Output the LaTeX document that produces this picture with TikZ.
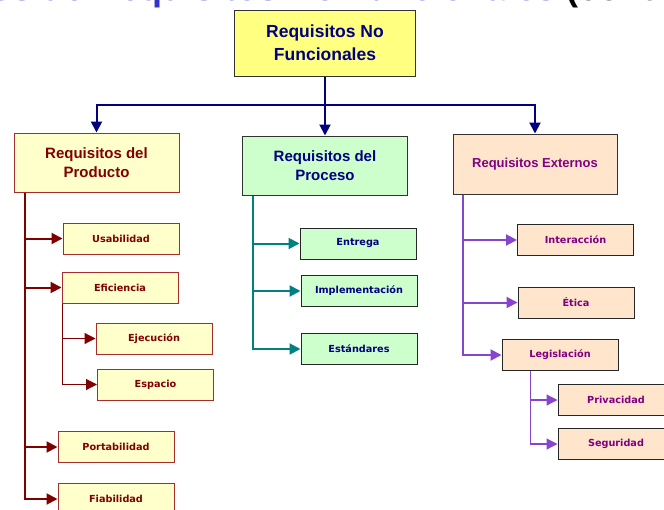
\documentclass[tikz,border=0pt]{standalone}
\usepackage{fontspec}
\setmainfont{Liberation Sans}
\newfontfamily\leaffont{DejaVu Sans}
\usetikzlibrary{arrows.meta,positioning}
\definecolor{navyline}{RGB}{0,0,128}
\definecolor{titleblue}{RGB}{51,51,204}
\definecolor{topfill}{RGB}{255,255,128}
\definecolor{prodred}{RGB}{128,0,0}
\definecolor{prodedge}{RGB}{165,45,45}
\definecolor{prodfill}{RGB}{255,255,204}
\definecolor{procfill}{RGB}{204,255,204}
\definecolor{procteal}{RGB}{0,128,128}
\definecolor{extfill}{RGB}{255,229,204}
\definecolor{extpurple}{RGB}{128,0,128}
\definecolor{extviolet}{RGB}{136,68,204}
\tikzset{
    head/.style={draw=black!80,line width=1pt,minimum width=165pt,minimum height=59pt,align=center,text=navyline,font=\bfseries\fontsize{15}{19}\selectfont},
    leaf/.style={draw,line width=1pt,minimum width=116pt,minimum height=31pt,font=\leaffont\bfseries\fontsize{9.7}{11}\selectfont},
    prodleaf/.style={leaf,fill=prodfill,draw=prodedge,text=prodred},
    procleaf/.style={leaf,fill=procfill,draw=black!85,text=navyline},
    extleaf/.style={leaf,fill=extfill,draw=black!85,text=extpurple},
    tip/.style={-{Triangle[length=11pt,width=11pt]}},
    bus/.style={tip,line width=2pt,draw=navyline},
    prodline/.style={tip,line width=2pt,draw=prodred},
    prodsub/.style={tip,line width=1.2pt,draw=prodred},
    procline/.style={tip,line width=2pt,draw=procteal},
    extline/.style={tip,line width=2pt,draw=extviolet},
    extsub/.style={tip,line width=1.2pt,draw=extviolet}
}

\begin{document}
\begin{tikzpicture}[x=1pt,y=-1pt]

    \useasboundingbox (0,0) rectangle (664,509);
    \clip (0,0) rectangle (664,509);

    % slide title, cut off by the frame
    \node (title) at (-63,0) [anchor=base west,inner sep=0pt,text=titleblue,font=\bfseries\fontsize{36}{40}\selectfont]
        {Tipos de Requisitos No Funcionales \textcolor{black}{(cont.)}};

    \node[head,fill=topfill,minimum width=181pt,minimum height=66pt,font=\bfseries\fontsize{17.5}{23}\selectfont]
        (req) at (325,43) {Requisitos No\\Funcionales};

    \node[head,fill=prodfill,draw=prodedge,text=prodred] (prod) at (96.5,162.5) {Requisitos del\\Producto};
    \node[head,fill=procfill] (proc) at (325,165.5) {Requisitos del\\Proceso};
    \node[head,fill=extfill,text=extpurple,minimum width=164pt,minimum height=60pt,font=\bfseries\fontsize{13}{16}\selectfont]
        (ext) at (535,164) {Requisitos Externos};

    % producto
    \node[prodleaf] (usab) at (121,238.5) {Usabilidad};
    \node[prodleaf] (efic) at (120,287.5) {Eficiencia};
    \node[prodleaf] (ejec) at (154,338.5) {Ejecución};
    \node[prodleaf] (espa) [below=14pt of ejec,xshift=1.5pt] {Espacio};
    \node[prodleaf] (port) at (116,447) {Portabilidad};
    \node[prodleaf] (fiab) [below=20pt of port] {Fiabilidad};

    % proceso
    \node[procleaf] (entr) at (358,243.5) {Entrega};
    \node[procleaf] (impl) at (359,291) {Implementación};
    \node[procleaf] (esta) at (359,349) {Estándares};

    % externos
    \node[extleaf] (inter) at (575.5,240) {Interacción};
    \node[extleaf] (etica) at (576,302.5) {Ética};
    \node[extleaf] (legis) at (560,355) {Legislación};
    \node[extleaf] (priv) at (616,400) {Privacidad};
    \node[extleaf] (segu) [below=12pt of priv] {Seguridad};

    \draw[bus] (req.south) -- (proc.north);
    \draw[bus] (req.south) ++(0,28) -| (prod.north);
    \draw[bus] (req.south) ++(0,28) -| (ext.north);

    \draw[prodline] (prod.south west) ++(11,0) |- (usab.west);
    \draw[prodline] (prod.south west) ++(11,0) |- (efic.west);
    \draw[prodline] (prod.south west) ++(11,0) |- (port.west);
    \draw[prodline] (prod.south west) ++(11,0) |- (fiab.west);
    \draw[prodsub] (efic.south west) ++(1,0) |- (ejec.west);
    \draw[prodsub] (efic.south west) ++(1,0) |- (espa.west);

    \draw[procline] (proc.south west) ++(11,0) |- (entr.west);
    \draw[procline] (proc.south west) ++(11,0) |- (impl.west);
    \draw[procline] (proc.south west) ++(11,0) |- (esta.west);

    \draw[extline] (ext.south west) ++(10,0) |- (inter.west);
    \draw[extline] (ext.south west) ++(10,0) |- (etica.west);
    \draw[extline] (ext.south west) ++(10,0) |- (legis.west);
    \draw[extsub] (legis.south west) ++(29,0) |- (priv.west);
    \draw[extsub] (legis.south west) ++(29,0) |- (segu.west);

\end{tikzpicture}
\end{document}
